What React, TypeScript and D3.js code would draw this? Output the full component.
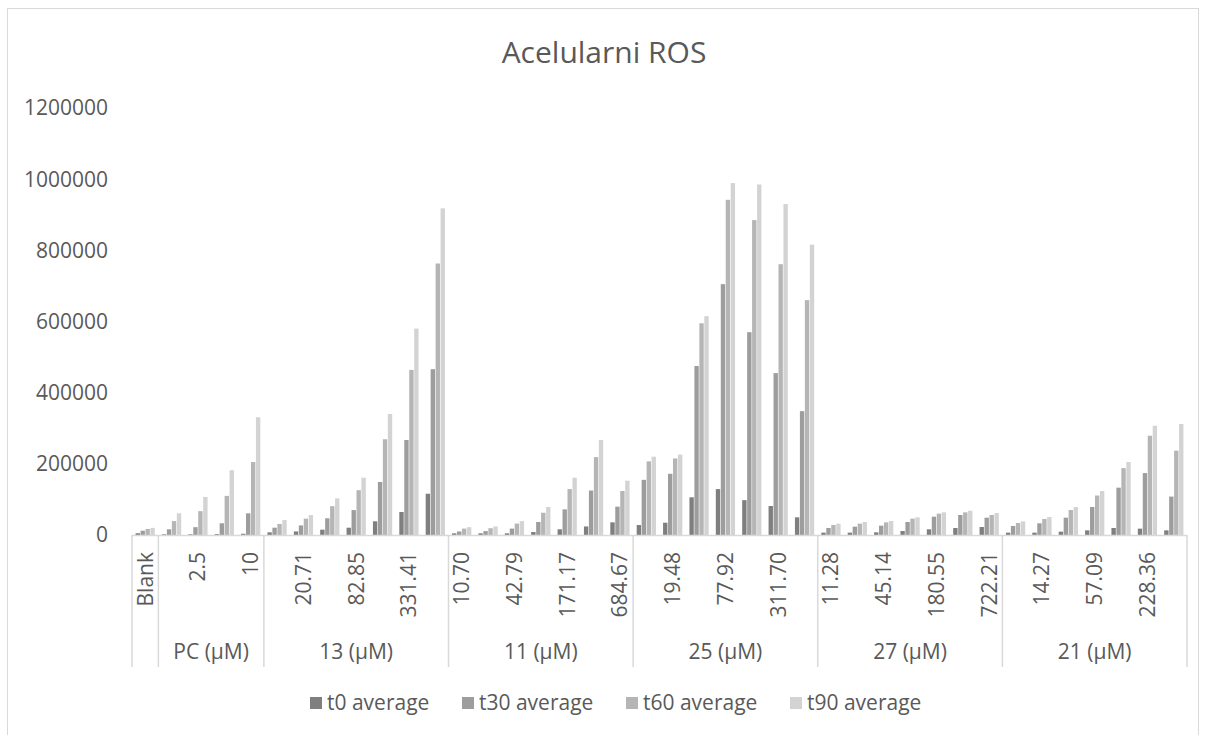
import React from "react";
import * as d3 from "d3";

const title = "Acelularni ROS";
const seriesNames = ["t0 average", "t30 average", "t60 average", "t90 average"];
const seriesColors = ["#7f7f7f", "#9d9d9d", "#b5b5b5", "#d3d3d3"];
const groupNames = ["", "PC (µM)", "13 (µM)", "11 (µM)", "25 (µM)", "27 (µM)", "21 (µM)"];
const groupSizes = [1, 4, 7, 7, 7, 7, 7];
const categories = [
  "Blank",
  "1.25", "2.5", "5", "10",
  "10.36", "20.71", "41.43", "82.85", "165.71", "331.41", "662.82",
  "10.70", "21.39", "42.79", "85.58", "171.17", "342.34", "684.67",
  "9.74", "19.48", "38.96", "77.92", "155.85", "311.70", "623.40",
  "11.28", "22.57", "45.14", "90.28", "180.55", "361.11", "722.21",
  "7.14", "14.27", "28.55", "57.09", "114.18", "228.36", "456.72",
];
const t0 = [
  5000,
  2000, 2000, 2500, 3500,
  7500, 10000, 15000, 20500, 38500, 64600, 116000,
  4700, 4700, 4700, 8400, 16000, 24000, 35600,
  28000, 34600, 106000, 129000, 98000, 81500, 49700,
  6600, 6600, 7500, 11200, 16000, 19700, 22500,
  6600, 6600, 9400, 13100, 19700, 17800, 13100,
];
const t30 = [
  12000,
  16000, 22000, 33000, 61000,
  20500, 27000, 47000, 70000, 149000, 267000, 466000,
  10000, 11000, 18000, 36500, 72000, 125000, 79600,
  155000, 172000, 475000, 705000, 570000, 455000, 348000,
  19700, 23400, 26200, 36500, 51500, 56200, 48700,
  25300, 32800, 48700, 78700, 133000, 174000, 108000,
];
const t60 = [
  17000,
  39000, 67000, 110000, 205000,
  31000, 46000, 81000, 126000, 269000, 464000, 763000,
  18000, 19000, 32000, 62600, 129000, 219000, 123600,
  207000, 215000, 595000, 942000, 885000, 761000, 660000,
  28000, 31800, 35600, 45900, 60000, 63700, 56200,
  33700, 45000, 70200, 111000, 188000, 279000, 237000,
];
const t90 = [
  20000,
  61000, 107000, 182000, 331000,
  42000, 56000, 103000, 161000, 340000, 580000, 918000,
  22000, 24000, 39000, 78700, 161000, 267000, 152600,
  220000, 226000, 615000, 989000, 985000, 930000, 816000,
  31800, 36500, 39300, 49700, 63700, 68300, 61800,
  38400, 50600, 78700, 123600, 205000, 307000, 312000,
];
const yTicks = [0, 200000, 400000, 600000, 800000, 1000000, 1200000];

const W = 1206;
const H = 735;
const left = 132;
const right = 1187;
const top = 108;
const bottom = 535;
const font = "'Open Sans', 'Noto Sans', sans-serif";
const textColor = "#595959";
const lineColor = "#d9d9d9";

export default function App() {
  const series = [t0, t30, t60, t90];
  const idx = categories.map((_, i) => i);
  const pi = 0.27;
  const x0 = d3.scaleBand<number>().domain(idx).range([left, right]).paddingInner(pi).paddingOuter(pi / 2);
  const step = x0.step();
  const x1 = d3.scaleBand<number>().domain([0, 1, 2, 3]).range([0, x0.bandwidth()]).paddingInner(0.12);
  const y = d3.scaleLinear().domain([0, 1200000]).range([bottom, top]);
  const catStart = (i: number) => left + i * step;

  // group boundaries
  const starts: number[] = [];
  let acc = 0;
  groupSizes.forEach((s) => {
    starts.push(acc);
    acc += s;
  });

  const legendX = [310, 462, 626, 790];

  return (
    <div style={{ position: "absolute", left: 0, top: 0 }}>
      <svg width={W} height={H} style={{ display: "block", background: "#fff" }}>
        <rect x={7.5} y={8.5} width={1191} height={740} fill="#fff" stroke={lineColor} strokeWidth={1} />
        <text x={604} y={63} textAnchor="middle" fontFamily={font} fontSize={30} fill={textColor}>
          {title}
        </text>
        {yTicks.map((t) => (
          <text key={t} x={108} y={y(t)} dy="0.35em" textAnchor="end" fontFamily={font} fontSize={21} fill={textColor}>
            {t}
          </text>
        ))}
        {series.map((vals, s) => (
          <g key={s} fill={seriesColors[s]}>
            {vals.map((v, i) => (
              <rect
                key={i}
                x={(x0(i) as number) + (x1(s) as number)}
                y={y(v)}
                width={x1.bandwidth()}
                height={bottom - y(v)}
              />
            ))}
          </g>
        ))}
        <line x1={left} x2={right} y1={bottom + 0.5} y2={bottom + 0.5} stroke={lineColor} strokeWidth={1.5} />
        {/* group separators */}
        {[...starts, categories.length].map((s, k) => (
          <line
            key={k}
            x1={catStart(s)}
            x2={catStart(s)}
            y1={bottom}
            y2={667}
            stroke={lineColor}
            strokeWidth={1.5}
          />
        ))}
        {categories.map((c, i) =>
          i % 2 === 0 ? (
            <text
              key={i}
              transform={`translate(${catStart(i) + step / 2},552) rotate(-90)`}
              dy="0.35em"
              textAnchor="end"
              fontFamily={font}
              fontSize={21}
              fill={textColor}
            >
              {c}
            </text>
          ) : null
        )}
        {groupNames.map((g, k) =>
          g ? (
            <text
              key={k}
              x={(catStart(starts[k]) + catStart(starts[k] + groupSizes[k])) / 2}
              y={652}
              dy="0.35em"
              textAnchor="middle"
              fontFamily={font}
              fontSize={21}
              fill={textColor}
            >
              {g}
            </text>
          ) : null
        )}
        {seriesNames.map((n, s) => (
          <g key={n} transform={`translate(${legendX[s]},703)`}>
            <rect x={0} y={-6} width={12} height={12} fill={seriesColors[s]} />
            <text x={17} y={0} dy="0.35em" fontFamily={font} fontSize={21} fill={textColor}>
              {n}
            </text>
          </g>
        ))}
      </svg>
    </div>
  );
}
